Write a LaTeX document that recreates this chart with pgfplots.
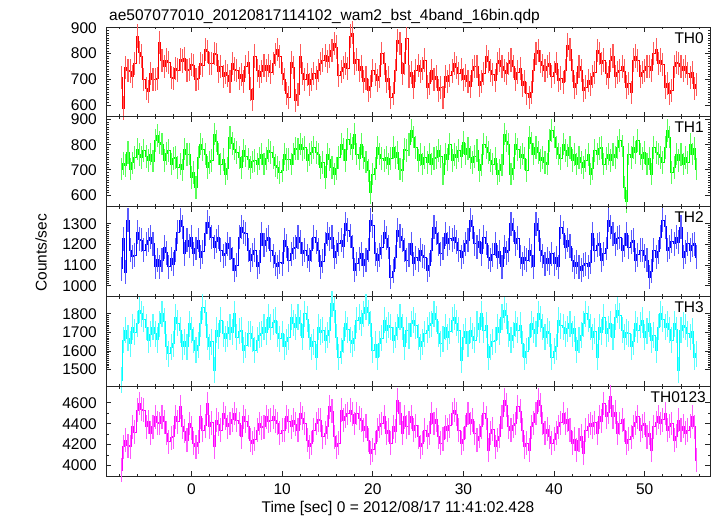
\documentclass[border=0pt]{standalone}
\usepackage{pgfplots}
\pgfplotsset{compat=1.18}
\usepackage{pgfplotstable}
\usepackage{fontspec}
\setmainfont{Liberation Sans}
\definecolor{qred}{RGB}{255,0,0}
\definecolor{qgreen}{RGB}{0,255,0}
\definecolor{qblue}{RGB}{0,0,255}
\definecolor{qcyan}{RGB}{0,255,255}
\definecolor{qmag}{RGB}{255,0,255}

\pgfplotstableread{
t a b c d e
-7.75 708 703 1083 1443 3956
-7.5 588 725 1227 1657 4179
-7.25 745 717 1066 1711 4243
-7.0 735 770 1316 1668 4190
-6.75 732 703 1171 1639 4179
-6.5 712 728 1140 1729 4370
-6.25 760 750 1147 1700 4320
-6.0 868 783 1260 1746 4530
-5.75 805 760 1226 1818 4594
-5.5 790 750 1219 1800 4540
-5.25 700 776 1171 1770 4530
-5.0 665 752 1200 1729 4370
-4.75 652 737 1219 1657 4420
-4.5 722 763 1235 1690 4307
-4.25 698 735 1204 1729 4370
-4.0 700 816 1091 1693 4466
-3.75 702 836 1125 1660 4410
-3.5 842 810 1091 1746 4402
-3.25 772 803 1123 1800 4466
-3.0 750 737 1187 1760 4420
-2.75 775 765 1160 1622 4307
-2.5 765 776 1091 1586 4227
-2.25 708 723 1131 1620 4265
-2.0 702 745 1105 1639 4275
-1.75 742 750 1171 1782 4466
-1.5 736 710 1260 1748 4420
-1.25 776 723 1316 1711 4562
-1.0 771 700 1285 1622 4370
-0.75 780 783 1155 1650 4330
-0.5 735 760 1219 1622 4243
-0.25 738 763 1190 1746 4402
0.0 758 670 1235 1715 4360
0.25 752 690 1155 1657 4211
0.5 700 631 1180 1604 4179
0.75 705 750 1219 1630 4220
1.0 762 803 1139 1746 4466
1.25 755 780 1165 1835 4338
1.5 815 763 1252 1805 4380
1.75 808 710 1308 1675 4594
2.0 760 730 1280 1622 4370
2.25 762 737 1235 1650 4410
2.5 800 842 1187 1497 4179
2.75 795 815 1215 1711 4434
3.0 730 763 1235 1680 4395
3.25 750 723 1171 1764 4338
3.5 712 740 1145 1693 4498
3.75 728 684 1155 1665 4455
4.0 715 705 1203 1693 4370
4.25 690 829 1180 1729 4402
4.5 762 805 1131 1700 4440
4.75 740 783 1075 1800 4498
5.0 735 770 1100 1675 4434
5.25 702 748 1235 1705 4400
5.5 720 710 1284 1711 4275
5.75 690 776 1258 1604 4466
6.0 748 755 1252 1630 4425
6.25 765 743 1171 1693 4370
6.5 662 710 1123 1693 4243
6.75 620 732 1150 1665 4211
7.0 790 737 1171 1604 4250
7.25 735 723 1091 1657 4338
7.5 712 745 1115 1685 4402
7.75 730 763 1252 1693 4360
8.0 752 723 1195 1729 4370
8.25 735 745 1220 1700 4466
8.5 752 776 1235 1782 4425
8.75 728 770 1171 1729 4434
9.0 760 750 1145 1755 4466
9.25 795 717 1107 1764 4430
9.5 815 710 1091 1693 4402
9.75 788 690 1115 1665 4307
10.0 722 697 1107 1693 4340
10.25 700 763 1219 1622 4338
10.5 645 740 1190 1650 4466
10.75 628 743 1123 1675 4425
11.0 765 723 1155 1782 4370
11.25 745 763 1180 1750 4434
11.5 618 785 1187 1729 4395
11.75 640 783 1235 1782 4338
12.0 790 803 1210 1750 4498
12.25 722 780 1155 1675 4455
12.5 700 790 1171 1800 4402
12.75 720 737 1145 1770 4243
13.0 680 760 1123 1675 4179
13.25 698 770 1171 1622 4215
13.5 722 790 1235 1650 4338
13.75 705 768 1210 1568 4402
14.0 735 763 1171 1729 4440
14.25 760 710 1091 1700 4434
14.5 775 730 1118 1711 4275
14.75 792 670 1203 1657 4310
15.0 770 763 1252 1685 4370
15.25 790 740 1225 1711 4562
15.5 813 710 1235 1853 4520
15.75 840 684 1139 1820 4275
16.0 825 705 1165 1675 4179
16.25 715 750 1203 1568 4215
16.5 730 803 1219 1600 4530
16.75 745 780 1190 1657 4434
17.0 762 737 1300 1746 4470
17.25 742 823 1268 1715 4498
17.5 868 803 1240 1657 4530
17.75 880 785 1187 1639 4490
18.0 760 842 1075 1670 4402
18.25 778 763 1107 1764 4498
18.5 735 745 1130 1782 4455
18.75 750 803 1155 1750 4434
19.0 690 750 1099 1800 4338
19.25 705 732 1125 1835 4375
19.5 656 697 1171 1805 4243
19.75 672 611 1316 1746 4115
20.0 735 684 1290 1604 4150
20.25 718 706 1155 1635 4211
20.5 695 790 1123 1568 4338
20.75 710 763 1150 1639 4375
21.0 800 745 1187 1670 4402
21.25 760 737 1260 1764 4466
21.5 690 750 1230 1711 4307
21.75 705 723 1187 1740 4340
22.0 630 745 1042 1729 4211
22.25 645 790 1070 1657 4370
22.5 735 750 1139 1685 4330
22.75 852 770 1268 1729 4626
23.0 838 703 1240 1782 4498
23.25 722 697 1219 1729 4307
23.5 760 783 1171 1622 4466
23.75 858 776 1123 1711 4370
24.0 712 800 1150 1680 4410
24.25 725 856 1203 1746 4466
24.5 670 830 1107 1764 4338
24.75 735 790 1135 1735 4380
25.0 752 737 1123 1675 4275
25.25 730 760 1171 1622 4179
25.5 742 723 1145 1650 4215
25.75 775 750 1139 1693 4338
26.0 670 730 1075 1711 4275
26.25 685 763 1100 1740 4310
26.5 735 723 1171 1746 4498
26.75 698 745 1284 1800 4402
27.0 712 750 1255 1770 4440
27.25 655 776 1203 1693 4275
27.5 668 752 1155 1639 4211
27.75 630 684 1180 1665 4250
28.0 710 763 1252 1729 4370
28.25 690 740 1203 1675 4338
28.5 715 803 1230 1705 4380
28.75 732 737 1219 1764 4498
29.0 760 760 1235 1782 4530
29.25 745 750 1210 1750 4490
29.5 722 776 1171 1711 4338
29.75 738 754 1139 1550 4211
30.0 700 809 1165 1675 4250
30.25 715 763 1203 1705 4370
30.5 690 785 1219 1639 4498
30.75 672 750 1316 1711 4402
31.0 735 730 1285 1680 4440
31.25 750 752 1203 1657 4307
31.5 750 776 1187 1746 4243
31.75 676 697 1215 1715 4280
32.0 692 720 1155 1800 4370
32.25 722 803 1235 1711 4498
32.5 787 790 1205 1740 4455
32.75 770 768 1139 1568 4147
33.0 735 737 1123 1622 4307
33.25 718 723 1150 1650 4345
33.5 695 745 1203 1657 4179
33.75 760 684 1139 1729 4243
34.0 775 697 1165 1700 4280
34.25 750 720 1091 1782 4466
34.5 735 842 1187 1818 4626
34.75 722 815 1160 1790 4580
35.0 760 803 1171 1693 4370
35.25 775 684 1300 1657 4338
35.5 748 706 1270 1685 4380
35.75 700 803 1203 1746 4402
36.0 728 780 1230 1711 4562
36.25 742 750 1139 1740 4520
36.5 676 763 1107 1639 4338
36.75 690 745 1135 1568 4179
37.0 643 697 1123 1600 4215
37.25 630 829 1171 1675 4147
37.5 648 805 1145 1746 4370
37.75 735 763 1091 1715 4410
38.0 800 790 1300 1693 4498
38.25 812 768 1270 1800 4626
38.5 768 737 1171 1770 4580
38.75 752 750 1145 1729 4402
39.0 735 730 1107 1675 4307
39.25 748 723 1130 1705 4345
39.5 760 816 1110 1693 4275
39.75 710 856 1155 1568 4211
40.0 725 830 1107 1600 4250
40.25 760 790 1135 1622 4307
40.5 695 763 1091 1764 4370
40.75 705 745 1284 1735 4410
41.0 688 803 1255 1729 4498
41.25 735 776 1187 1693 4402
41.5 833 758 1219 1720 4440
41.75 815 790 1190 1746 4338
42.0 735 737 1123 1693 4211
42.25 670 760 1091 1720 4250
42.5 685 723 1115 1604 4147
42.75 750 750 1091 1657 4243
43.0 735 730 1075 1685 4280
43.25 655 710 1100 1746 4115
43.5 670 737 1107 1800 4338
43.75 695 760 1091 1770 4375
44.0 680 684 1115 1729 4402
44.25 710 706 1252 1675 4370
44.5 725 776 1171 1705 4410
44.75 813 763 1195 1568 4307
45.0 800 785 1203 1729 4466
45.25 760 790 1123 1700 4425
45.5 775 723 1155 1782 4594
45.75 722 745 1180 1693 4466
46.0 708 763 1316 1720 4510
46.25 775 737 1285 1746 4658
46.5 790 760 1252 1675 4466
46.75 710 750 1203 1782 4510
47.0 725 790 1230 1818 4307
47.25 735 816 1235 1790 4402
47.5 748 795 1171 1711 4440
47.75 732 631 1195 1675 4338
48.0 670 575 1252 1700 4211
48.25 685 763 1187 1693 4250
48.5 650 750 1210 1622 4275
48.75 775 790 1219 1650 4370
49.0 790 770 1123 1746 4410
49.25 772 816 1150 1711 4466
49.5 710 763 1171 1740 4338
49.75 725 745 1171 1764 4380
50.0 735 770 1145 1675 4402
50.25 748 723 1123 1705 4275
50.5 750 745 1042 1746 4310
50.75 735 684 1070 1657 4147
51.0 800 790 1171 1685 4370
51.25 815 770 1139 1604 4410
51.5 760 763 1165 1729 4466
51.75 775 750 1235 1800 4402
52.0 758 730 1316 1770 4440
52.25 670 790 1285 1729 4498
52.5 685 856 1171 1746 4338
52.75 643 830 1187 1715 4375
53.0 655 690 1215 1657 4402
53.25 750 710 1203 1746 4243
53.5 765 763 1235 1715 4280
53.75 760 737 1210 1497 4434
54.0 748 760 1284 1711 4338
54.25 735 723 1139 1740 4375
54.5 750 750 1165 1729 4307
54.75 722 730 1203 1693 4338
55.0 708 803 1171 1675 4375
55.25 725 763 1195 1705 4466
55.5 663 785 1203 1568 4370
55.75 678 703 1139 1586 4051
}\lc

\pgfplotsset{
  panel/.style={
    scale only axis, width=604pt, height=89.8pt,
    anchor=north west, clip=false,
    xmin=-9.43, xmax=57.2,
    xtick={0,10,20,30,40,50},
    minor xtick={-8,-6,-4,-2,2,4,6,8,12,14,16,18,22,24,26,28,32,34,36,38,42,44,46,48,52,54,56},
    tick align=inside, xtick pos=both, ytick pos=both,
    major tick length=5pt, minor tick length=2.5pt,
    axis line style={line width=0.9pt, black!85},
    tick style={line width=0.8pt, black!85},
    tick label style={font=\fontsize{15.5}{18}\selectfont},
    /pgf/number format/assume math mode=true,
    /pgf/number format/1000 sep={},
    scaled y ticks=false,
    yticklabel style={inner sep=0pt, anchor=east, xshift=-9pt},
    xticklabel style={inner sep=0pt, anchor=north, yshift=-7.5pt},
  },
  lcb/.style 2 args={#1, line width=0.8pt, const plot mark mid, mark=none,
    error bars/.cd, y dir=both, y fixed=#2,
    draw error bar/.code 2 args={\draw[draw=#1!65!white, line width=1.1pt] ##1 -- ##2;}},
}

\begin{document}
\begin{tikzpicture}
\useasboundingbox (0,0) rectangle (717pt,-516pt);
\node[anchor=base west, inner sep=0pt, font=\fontsize{15.5}{18}\selectfont] at (109pt,-21pt) {ae507077010\_20120817114102\_wam2\_bst\_4band\_16bin.qdp};
\node[rotate=90, inner sep=0pt, font=\fontsize{15.5}{18}\selectfont] at (41pt,-253pt) {Counts/sec};
\node[anchor=base, inner sep=0pt, font=\fontsize{15.5}{18}\selectfont] at (398pt,-512pt) {Time [sec] 0 = 2012/08/17 11:41:02.428};

\begin{axis}[panel, at={(106pt,-27pt)}, ymin=554, ymax=903, ytick={600,700,800,900}, minor y tick num=9, xticklabels={}]
\addplot[lcb={qred}{45}] table[x=t,y=a]{\lc};
\end{axis}
\node[anchor=north east, inner sep=0pt, font=\fontsize{15.5}{18}\selectfont] at (704pt,-32pt) {TH0};

\begin{axis}[panel, at={(106pt,-116.8pt)}, ymin=554, ymax=911, ytick={600,700,800,900}, minor y tick num=9, xticklabels={}]
\addplot[lcb={qgreen}{45}] table[x=t,y=b]{\lc};
\end{axis}
\node[anchor=north east, inner sep=0pt, font=\fontsize{15.5}{18}\selectfont] at (704pt,-121.8pt) {TH1};

\begin{axis}[panel, at={(106pt,-206.6pt)}, ymin=948, ymax=1383, ytick={1000,1100,1200,1300}, minor y tick num=9, xticklabels={}]
\addplot[lcb={qblue}{58}] table[x=t,y=c]{\lc};
\end{axis}
\node[anchor=north east, inner sep=0pt, font=\fontsize{15.5}{18}\selectfont] at (704pt,-211.6pt) {TH2};

\begin{axis}[panel, at={(106pt,-296.4pt)}, ymin=1411, ymax=1893, ytick={1500,1600,1700,1800}, minor y tick num=9, xticklabels={}]
\addplot[lcb={qcyan}{70}] table[x=t,y=d]{\lc};
\end{axis}
\node[anchor=north east, inner sep=0pt, font=\fontsize{15.5}{18}\selectfont] at (704pt,-301.4pt) {TH3};

\begin{axis}[panel, at={(106pt,-386.2pt)}, ymin=3898, ymax=4760, ytick={4000,4200,4400,4600}, minor y tick num=1]
\addplot[lcb={qmag}{115}] table[x=t,y=e]{\lc};
\end{axis}
\node[anchor=north east, inner sep=0pt, font=\fontsize{15.5}{18}\selectfont] at (706pt,-391.2pt) {TH0123};
\end{tikzpicture}
\end{document}
